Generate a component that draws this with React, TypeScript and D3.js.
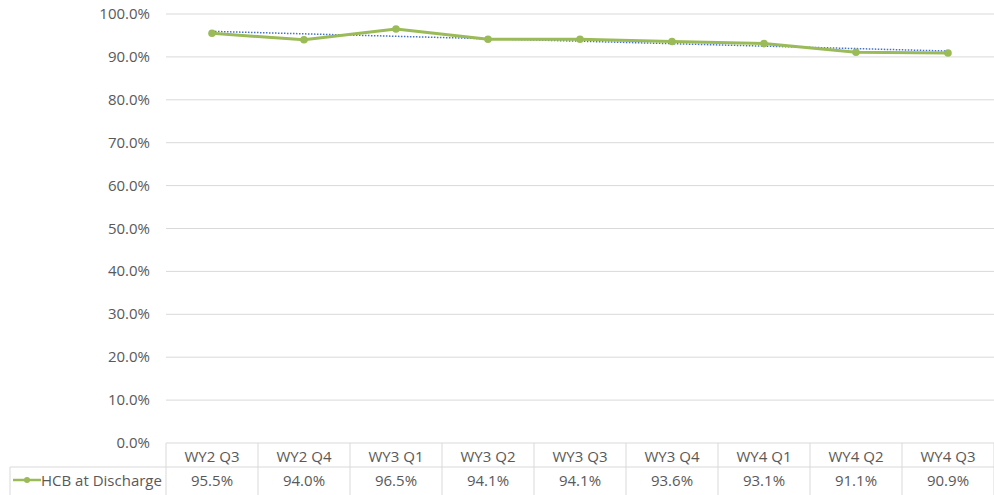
import React from 'react';
import * as d3 from 'd3';

const categories = ['WY2 Q3', 'WY2 Q4', 'WY3 Q1', 'WY3 Q2', 'WY3 Q3', 'WY3 Q4', 'WY4 Q1', 'WY4 Q2', 'WY4 Q3'];
const hcbValues = [95.5, 94.0, 96.5, 94.1, 94.1, 93.6, 93.1, 91.1, 90.9];
const yTicks = [0, 10, 20, 30, 40, 50, 60, 70, 80, 90, 100];
const seriesName = 'HCB at Discharge';

const width = 994;
const height = 495;
const margin = {top: 14, left: 166, right: 0, bottom: 52};
const font = "'Open Sans', sans-serif";
const green = '#9BBB59';
const textColor = '#595959';
const gridColor = '#d9d9d9';
const fs = 15;

function App() {
    const plotBottom = height - margin.bottom;
    const x = d3.scaleBand<string>()
        .domain(categories)
        .range([margin.left, width - margin.right]);
    const y = d3.scaleLinear()
        .domain([0, 100])
        .range([plotBottom, margin.top]);

    const pts: [number, number][] = hcbValues.map((v, i) => [x(categories[i])! + x.bandwidth() / 2, y(v)]);
    const line = d3.line<[number, number]>();

    // linear trendline (least squares on index)
    const n = hcbValues.length;
    const mx = d3.mean(hcbValues.map((_, i) => i + 1))!;
    const my = d3.mean(hcbValues)!;
    const slope = d3.sum(hcbValues, (v, i) => (i + 1 - mx) * (v - my)) / d3.sum(hcbValues, (_, i) => (i + 1 - mx) ** 2);
    const icpt = my - slope * mx;
    const trend: [number, number][] = [
        [pts[0][0], y(icpt + slope)],
        [pts[n - 1][0], y(icpt + slope * n)],
    ];

    const rowH = 24;
    const headerTop = plotBottom;
    const dataTop = headerTop + rowH;
    const legendLeft = 10;

    return (
        <svg width={width} height={height} style={{position: 'absolute', left: 0, top: 0}} fontFamily={font}>
            {yTicks.map(t => (
                <g key={t}>
                    {t > 0 && <line x1={margin.left} x2={width} y1={y(t)} y2={y(t)} stroke={gridColor} strokeWidth={1} />}
                    <text x={150} y={y(t) + 5} textAnchor="end" fontSize={fs} fill={textColor}>{t.toFixed(1)}%</text>
                </g>
            ))}

            {/* data table */}
            <line x1={margin.left} x2={width} y1={headerTop} y2={headerTop} stroke={gridColor} />
            <line x1={legendLeft} x2={width} y1={dataTop} y2={dataTop} stroke={gridColor} />
            <line x1={legendLeft} x2={legendLeft} y1={dataTop} y2={height} stroke={gridColor} />
            <line x1={margin.left} x2={margin.left} y1={headerTop} y2={height} stroke={gridColor} />
            {categories.map(c => (
                <g key={c}>
                    <line x1={x(c)! + x.bandwidth()} x2={x(c)! + x.bandwidth()} y1={headerTop} y2={height} stroke={gridColor} />
                    <text x={x(c)! + x.bandwidth() / 2} y={headerTop + 19} textAnchor="middle" fontSize={fs} fill={textColor}>{c}</text>
                </g>
            ))}
            {hcbValues.map((v, i) => (
                <text key={i} x={x(categories[i])! + x.bandwidth() / 2} y={dataTop + 19} textAnchor="middle" fontSize={fs} fill={textColor}>{v.toFixed(1)}%</text>
            ))}
            <line x1={13} x2={41} y1={dataTop + 13} y2={dataTop + 13} stroke={green} strokeWidth={2.5} />
            <circle cx={27} cy={dataTop + 13} r={3} fill={green} />
            <text x={41} y={dataTop + 19} fontSize={fs} fill={textColor}>{seriesName}</text>

            {/* trendline */}
            <path d={line(trend)!} fill="none" stroke="#4472C4" strokeWidth={1.5} strokeDasharray="1.5 1.5" />
            {/* series */}
            <path d={line(pts)!} fill="none" stroke={green} strokeWidth={3} strokeLinejoin="round" />
            {pts.map((p, i) => (
                <circle key={i} cx={p[0]} cy={p[1]} r={3.8} fill={green} />
            ))}
        </svg>
    );
}

export default App;
